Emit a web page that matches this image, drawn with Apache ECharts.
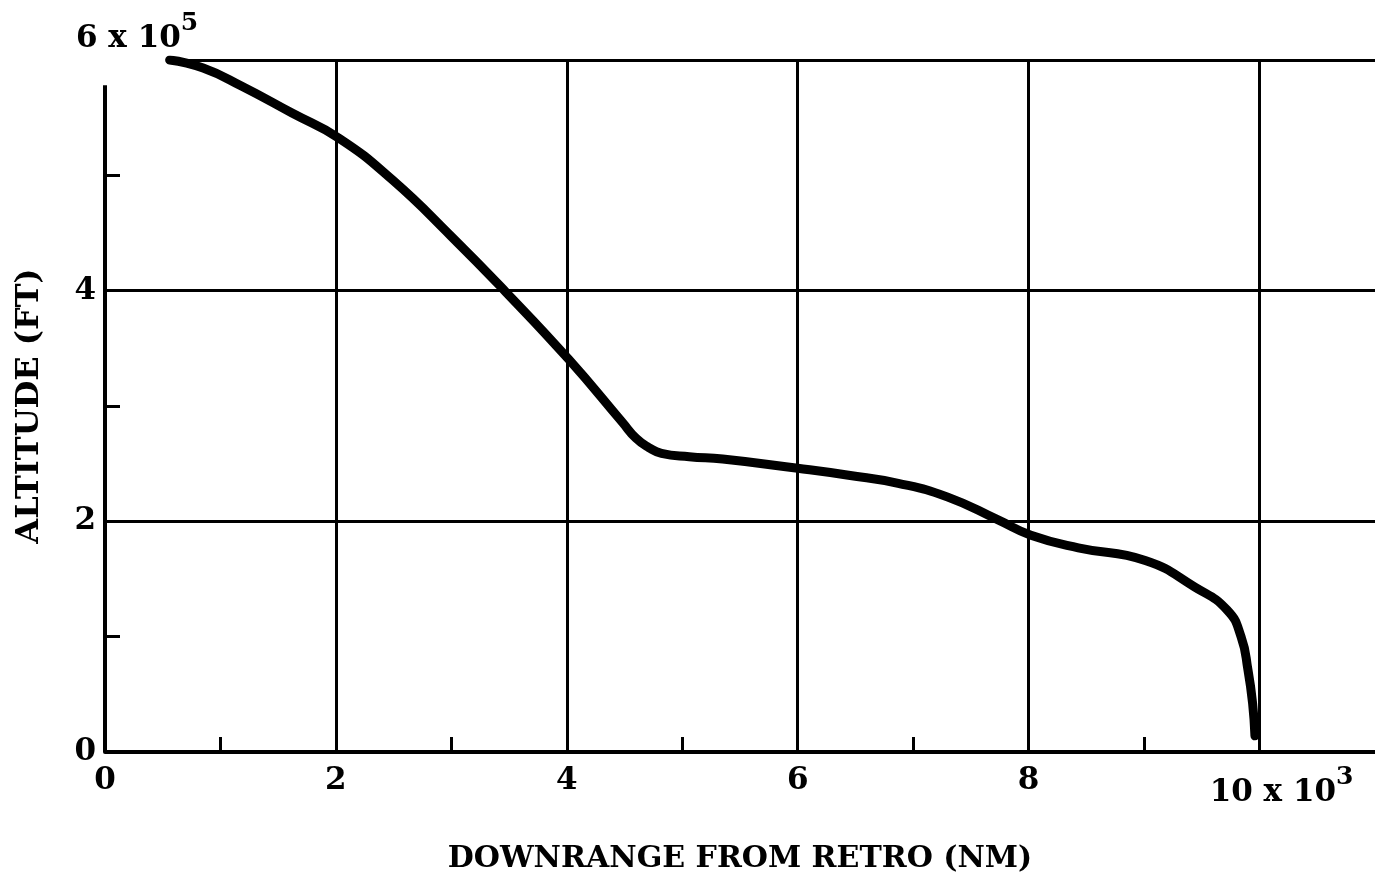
<!DOCTYPE html>
<html>
<head>
<meta charset="utf-8">
<script src="https://cdn.jsdelivr.net/npm/echarts@6/dist/echarts.min.js"></script>
<style>
html,body{margin:0;padding:0;background:#fff;}
#chart{width:1375px;height:887px;}
</style>
</head>
<body>
<div id="chart"></div>
<script>
// Downrange (x 10^3 NM) and altitude (x 10^5 FT)
const downrange = [0.56, 0.85, 1.19, 1.62, 2.03, 2.49, 3.00, 3.47, 4.02, 4.48, 4.60, 4.71, 4.82, 5.06, 5.35, 6.00, 6.44, 6.87, 7.30, 7.74, 8.02, 8.43, 9.01, 9.44, 9.72, 9.84, 9.90, 9.94, 9.96];
const altitude  = [6.00, 5.93, 5.77, 5.54, 5.32, 4.96, 4.47, 3.99, 3.40, 2.86, 2.72, 2.64, 2.59, 2.56, 2.54, 2.46, 2.40, 2.33, 2.21, 2.01, 1.88, 1.77, 1.66, 1.43, 1.23, 1.00, 0.71, 0.42, 0.14];

const xLabelValues = [0, 2, 4, 6, 8, 10];
const xTickLabels = {0: '0', 2: '2', 4: '4', 6: '6', 8: '8', 10: '{main|10 x 10}{sup|3}'};
const xMinorTicks = [1, 3, 5, 7, 9];
const yLabelValues = [0, 2, 4];
const yTickLabels = {0: '0', 2: '2', 4: '4'};
const yMinorTicks = [1, 3, 5];
const xGridValues = [2, 4, 6, 8, 10];
const yGridValues = [2, 4];
const yTopLabel = '{main|6 x 10}{sup|5}';
const xTitle = 'DOWNRANGE FROM RETRO (NM)';
const yTitle = 'ALTITUDE (FT)';

const FONT = 'DejaVu Serif';
const chart = echarts.init(document.getElementById('chart'));

const points = downrange.map((x, i) => [x, altitude[i]]);

const gridLines = [];
xGridValues.forEach(v => gridLines.push({xAxis: v}));
yGridValues.forEach(v => gridLines.push({yAxis: v}));
// top frame line (starts where the curve starts)
gridLines.push([{coord: [downrange[0], 6]}, {coord: [11, 6]}]);

// partial y-axis line
const axisLines = [
  [{coord: [0, 0]}, {coord: [0, 5.78]}]
];

chart.setOption({
  animation: false,
  backgroundColor: '#fff',
  title: {
    text: yTopLabel,
    left: 71,
    top: 6,
    textStyle: {
      rich: {
        main: {fontFamily: FONT, fontWeight: 'bold', fontSize: 31, color: '#000', verticalAlign: 'bottom'},
        sup: {fontFamily: FONT, fontWeight: 'bold', fontSize: 25, color: '#000', padding: [0, 0, 18, 0], verticalAlign: 'bottom'}
      }
    }
  },
  grid: {left: 105, right: 0, top: 60, bottom: 135, containLabel: false},
  xAxis: {
    type: 'value', min: 0, max: 11, interval: 1,
    axisLine: {show: true, onZero: false, lineStyle: {color: '#000', width: 4}},
    axisTick: {show: true, inside: true, length: 15, customValues: xMinorTicks, lineStyle: {color: '#000', width: 3}},
    splitLine: {show: false},
    axisLabel: {
      margin: 13,
      customValues: xLabelValues,
      color: '#000', fontFamily: FONT, fontWeight: 'bold', fontSize: 31,
      formatter: v => xTickLabels[v] !== undefined ? xTickLabels[v] : '',
      rich: {
        main: {fontFamily: FONT, fontWeight: 'bold', fontSize: 31, color: '#000', padding: [0, 0, 0, 44], verticalAlign: 'bottom'},
        sup: {fontFamily: FONT, fontWeight: 'bold', fontSize: 25, color: '#000', padding: [0, 0, 18, 0], verticalAlign: 'bottom'}
      }
    },
    name: xTitle, nameLocation: 'middle', nameGap: 92,
    nameTextStyle: {color: '#000', fontFamily: FONT, fontWeight: 'bold', fontSize: 30}
  },
  yAxis: {
    type: 'value', min: 0, max: 6, interval: 1,
    axisLine: {show: false},
    axisTick: {show: true, inside: true, length: 15, customValues: yMinorTicks, lineStyle: {color: '#000', width: 3}},
    splitLine: {show: false},
    axisLabel: {
      margin: 9,
      customValues: yLabelValues,
      color: '#000', fontFamily: FONT, fontWeight: 'bold', fontSize: 31,
      formatter: v => yTickLabels[v] !== undefined ? yTickLabels[v] : ''
    },
    name: yTitle, nameLocation: 'middle', nameGap: 59, nameRotate: 90,
    nameTextStyle: {color: '#000', fontFamily: FONT, fontWeight: 'bold', fontSize: 32}
  },
  series: [
    {
      type: 'line', data: [], z: 1, silent: true,
      markLine: {
        silent: true, symbol: ['none', 'none'], label: {show: false},
        lineStyle: {color: '#000', width: 3, type: 'solid'},
        emphasis: {disabled: true},
        data: gridLines
      }
    },
    {
      type: 'line', data: [], z: 1, silent: true,
      markLine: {
        silent: true, symbol: ['none', 'none'], label: {show: false},
        lineStyle: {color: '#000', width: 4, type: 'solid'},
        emphasis: {disabled: true},
        data: axisLines
      }
    },
    {
      type: 'line', data: points, z: 5,
      showSymbol: false, smooth: 0.5,
      lineStyle: {color: '#000', width: 9, cap: 'round', join: 'round'}
    }
  ]
});
</script>
</body>
</html>
